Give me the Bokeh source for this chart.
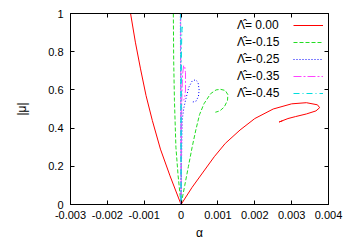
from bokeh.plotting import figure
from bokeh.models import LinearAxis, Range1d, FixedTicker, Legend, LegendItem
from bokeh.embed import file_html
from bokeh.resources import INLINE

# ---- data ----
alpha_r = [-0.00137, -0.00124, -0.0011, -0.00095, -0.00078, -0.00056, -0.0003, 0.0,
           0.0003, 0.0006, 0.0009, 0.0012, 0.0016, 0.0020, 0.0025, 0.0030, 0.0034,
           0.0037, 0.00376, 0.00366, 0.0034, 0.0031, 0.0029, 0.00266, 0.00275]
mu_r = [1.0, 0.85, 0.71, 0.57, 0.44, 0.29, 0.15, 0.0,
        0.09, 0.17, 0.25, 0.32, 0.39, 0.45, 0.50, 0.527, 0.533,
        0.522, 0.507, 0.49, 0.474, 0.46, 0.45, 0.432, 0.438]

alpha_g = [-0.00021, -0.0002, -0.00018, -0.00014, -0.00008, 0.0, 0.0001, 0.0002,
           0.0003, 0.0004, 0.0005, 0.00062, 0.0008, 0.00095, 0.00107, 0.0012,
           0.00127, 0.00126, 0.00117, 0.00105, 0.00093]
mu_g = [1.0, 0.75, 0.545, 0.30, 0.15, 0.0, 0.1, 0.2,
        0.3, 0.39, 0.47, 0.527, 0.58, 0.60, 0.603, 0.597,
        0.575, 0.545, 0.51, 0.49, 0.483]

alpha_b = [-0.00002, -0.00001, 0.0, 0.00001, 0.00003, 0.00007, 0.00012, 0.00021,
           0.0003, 0.00039, 0.00046, 0.00049, 0.00047, 0.0004, 0.0003]
mu_b = [1.0, 0.5, 0.0, 0.2, 0.44, 0.5, 0.545, 0.614,
        0.646, 0.653, 0.64, 0.60, 0.565, 0.54, 0.536]

alpha_m = [-0.00001, 0.0, 0.00001, 0.00002, 0.00004, 0.00007, 0.0001, 0.00012,
           0.00012, 0.0001, 0.00007]
mu_m = [1.0, 0.0, 0.3, 0.55, 0.68, 0.728, 0.72, 0.69, 0.60, 0.56, 0.545]

alpha_c = [-0.00001, 0.0, 0.000005, 0.00001, 0.00002, 0.00003, 0.00003]
mu_c = [1.0, 0.0, 0.5, 0.8, 0.9, 0.93, 0.9]

series_labels = ["\u039b\u0302= 0.00", "\u039b\u0302=-0.15", "\u039b\u0302=-0.25",
                 "\u039b\u0302=-0.35", "\u039b\u0302=-0.45"]

x_ticks = [-0.003, -0.002, -0.001, 0.0, 0.001, 0.002, 0.003, 0.004]
x_tick_labels = ["-0.003", "-0.002", "-0.001", "0", "0.001", "0.002", "0.003", "0.004"]
y_ticks = [0.0, 0.2, 0.4, 0.6, 0.8, 1.0]
y_tick_labels = ["0", "0.2", "0.4", "0.6", "0.8", "1"]

FONT = "Liberation Sans"

p = figure(width=346, height=242, output_backend="svg", toolbar_location=None,
           x_range=Range1d(-0.003, 0.004), y_range=Range1d(0, 1),
           min_border_left=70, min_border_right=18, min_border_top=13, min_border_bottom=38)
p.background_fill_color = "white"
p.border_fill_color = "white"
p.outline_line_color = "black"
p.outline_line_width = 1
p.grid.visible = False

def style_axis(ax, ticks, labels, show_labels=True):
    ax.ticker = FixedTicker(ticks=ticks)
    ax.major_tick_in = 4
    ax.major_tick_out = 0
    ax.minor_tick_in = 0
    ax.minor_tick_out = 0
    ax.axis_line_color = "black"
    ax.major_tick_line_color = "black"
    ax.major_label_text_font = FONT
    ax.major_label_text_color = "black"
    ax.major_label_text_font_size = "11px"
    if show_labels:
        ax.major_label_overrides = {t: l for t, l in zip(ticks, labels)}
        ax.major_label_standoff = 6
    else:
        ax.major_label_overrides = {t: "" for t in ticks}
        ax.major_label_standoff = 0

style_axis(p.xaxis[0], x_ticks, x_tick_labels)
style_axis(p.yaxis[0], y_ticks, y_tick_labels)
p.yaxis[0].major_label_standoff = 7
p.xaxis[0].axis_label = "\u03b1"
p.yaxis[0].axis_label = "|\u03bc|"
for ax in (p.xaxis[0], p.yaxis[0]):
    ax.axis_label_text_font = FONT
    ax.axis_label_text_font_size = "12px"
    ax.axis_label_text_font_style = "normal"
    ax.axis_label_text_color = "black"
p.xaxis[0].axis_label_standoff = 4
p.yaxis[0].axis_label_standoff = 16

top_ax = LinearAxis()
right_ax = LinearAxis()
style_axis(top_ax, x_ticks, x_tick_labels, show_labels=False)
style_axis(right_ax, y_ticks, y_tick_labels, show_labels=False)
p.add_layout(top_ax, "above")
p.add_layout(right_ax, "right")

r_red = p.line(alpha_r, mu_r, line_color="#ff0000", line_width=1)
r_green = p.line(alpha_g, mu_g, line_color="#22dd22", line_width=1, line_dash="4 2")
r_blue = p.line(alpha_b, mu_b, line_color="#0000ff", line_width=1, line_dash="1 2")
r_mag = p.line(alpha_m, mu_m, line_color="#ff44ff", line_width=1, line_dash="8 2 2 2")
r_cyan = p.line(alpha_c, mu_c, line_color="#00dddd", line_width=1, line_dash="6 3 1 3")
renderers = [r_red, r_green, r_blue, r_mag, r_cyan]

def make_legend(items, loc, glyph_w, padding, margin):
    lg = Legend(items=items, location=loc)
    lg.background_fill_alpha = 0
    lg.border_line_alpha = 0
    lg.label_text_font = FONT
    lg.label_text_font_size = "12px"
    lg.label_text_color = "black"
    lg.glyph_width = glyph_w
    lg.glyph_height = 14
    lg.label_height = 14
    lg.spacing = 3
    lg.padding = padding
    lg.margin = margin
    lg.label_standoff = 0
    return lg

# gnuplot-style key: text column on the left, sample lines on the right
legend_lines = make_legend([LegendItem(label=" ", renderers=[r]) for r in renderers],
                           "top_right", 30, 0, 5)
legend_lines.label_width = 0
legend_text = make_legend([LegendItem(label=lab, renderers=[]) for lab in series_labels],
                          (165, 102), 0, 2, 0)
legend_text.label_width = 40
p.add_layout(legend_lines)
p.add_layout(legend_text)

open("out.html", "w").write(file_html(p, INLINE))
